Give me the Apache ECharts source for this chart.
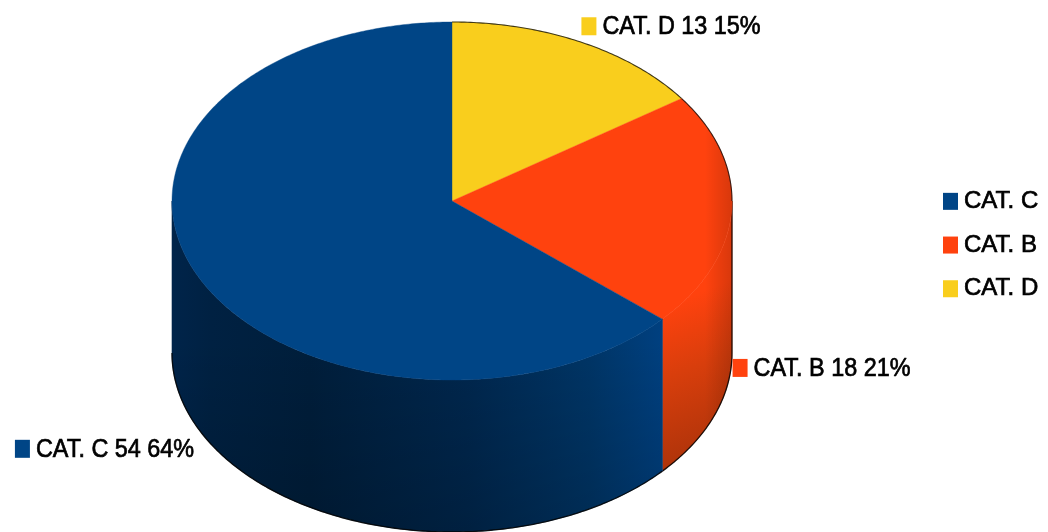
<!DOCTYPE html>
<html><head><meta charset="utf-8">
<style>html,body{margin:0;padding:0;background:#fff}#c{width:1048px;height:532px}</style>
<script src="https://cdn.jsdelivr.net/npm/echarts@6/dist/echarts.min.js"></script>
</head><body><div id="c"></div>
<script>
const categories = ['CAT. C', 'CAT. B', 'CAT. D'];
const values = [54, 18, 13];
const colors = ['#004586', '#ff420e', '#f9ce1d'];

// Slices run clockwise from 12 o'clock: D, then B, then C
const drawOrder = [2, 1, 0];
const total = values.reduce((a, b) => a + b, 0);
const CX = 452, CY = 201, RX = 280, RY = 179, DEPTH = 152;
const fontFamily = '"Liberation Sans", Arial, sans-serif';
const labelFont = '26px ' + fontFamily;
const labelOffset = { 'CAT. C': [-182, 22], 'CAT. B': [1, 5], 'CAT. D': [0, -16] };

const edgeShade = { x: 705, y: 0, x2: 733, y2: 0, stops: [[0, 'rgba(0,0,0,0)'], [1, 'rgba(0,0,0,0.16)']] };
const sideFill = {
  'CAT. C': [
    { x: 172, y: 0, x2: 663, y2: 0, stops: [[0, '#00244a'], [0.08, '#002142'], [0.28, '#001e3b'], [0.6, '#00274e'], [0.85, '#003566'], [1, '#004080']] },
    { x: 0, y: 340, x2: 0, y2: 532, stops: [[0, 'rgba(0,0,0,0)'], [1, 'rgba(0,0,0,0.18)']] }
  ],
  'CAT. B': [
    { x: 680, y: 300, x2: 735, y2: 440, stops: [[0, '#ff420e'], [0.45, '#d83e0c'], [1, '#b0340a']] },
    edgeShade
  ]
};

function gradient(f) {
  return new echarts.graphic.LinearGradient(f.x, f.y, f.x2, f.y2,
    f.stops.map(s => ({ offset: s[0], color: s[1] })), true);
}

function arcPts(a0, a1, dy) {
  const n = Math.max(2, Math.ceil(Math.abs(a1 - a0) * 90));
  const pts = [];
  for (let i = 0; i <= n; i++) {
    const a = a0 + (a1 - a0) * i / n;
    pts.push([CX + RX * Math.sin(a), CY + dy - RY * Math.cos(a)]);
  }
  return pts;
}

function sliceRange(idx) {
  let acc = 0;
  for (const k of drawOrder) {
    const start = acc / total * 2 * Math.PI;
    acc += values[k];
    if (k === idx) return [start, acc / total * 2 * Math.PI];
  }
}

function makeRender(idx) {
  return function () {
    const [a0, a1] = sliceRange(idx);
    const name = categories[idx], val = values[idx];
    const children = [];
    // side wall: visible on the front half only
    const s0 = Math.max(a0, Math.PI / 2), s1 = Math.min(a1, 3 * Math.PI / 2);
    if (s1 > s0) {
      const bottom = arcPts(s0, s1, DEPTH), top = arcPts(s1, s0, 0);
      const pts = bottom.concat(top);
      sideFill[name].forEach((f, i) => {
        const fill = gradient(f);
        children.push({ type: 'polygon', shape: { points: pts }, style: i === 0 ? { fill, stroke: fill, lineWidth: 0.6 } : { fill } });
      });
      const edge = s0 === Math.PI / 2 ? [[CX + RX, CY]].concat(bottom) : bottom;
      children.push({ type: 'polyline', shape: { points: edge }, style: { stroke: '#000', lineWidth: 1.3, fill: null, opacity: 0.85 } });
    }
    // top face
    const top = [[CX, CY]].concat(arcPts(a0, a1, 0));
    children.push({ type: 'polygon', shape: { points: top }, style: { fill: colors[idx], stroke: colors[idx], lineWidth: 0.4 } });
    if (name === 'CAT. B') {
      children.push({ type: 'polygon', shape: { points: top }, style: { fill: gradient(edgeShade) } });
    }
    if (a0 < Math.PI / 2) {
      children.push({ type: 'polyline', shape: { points: arcPts(a0, Math.min(a1, Math.PI / 2), 0) }, style: { stroke: '#000', lineWidth: 1.1, fill: null, opacity: 0.75 } });
    }
    // data label with colour key, anchored at the slice's middle
    const mid = (a0 + a1) / 2;
    const onFront = Math.cos(mid) < 0;
    const off = labelOffset[name];
    const lx = CX + RX * Math.sin(mid) + off[0];
    const ly = CY - RY * Math.cos(mid) + (onFront ? DEPTH : 0) + off[1];
    const pct = Math.round(val / total * 100);
    children.push({ type: 'rect', z2: 50, shape: { x: lx, y: ly - 9, width: 15, height: 18 }, style: { fill: colors[idx] } });
    children.push({
      type: 'text', z2: 50, x: lx + 21, y: ly + 1, scaleX: 0.9,
      style: { x: 0, y: 0, text: name + ' ' + val + ' ' + pct + '%', font: labelFont, fill: '#000', stroke: '#000', lineWidth: 0.7, verticalAlign: 'middle' }
    });
    return { type: 'group', children };
  };
}

const chart = echarts.init(document.getElementById('c'), null, { renderer: 'canvas' });
chart.setOption({
  animation: false,
  backgroundColor: '#fff',
  legend: {
    data: categories.slice(),
    orient: 'vertical', left: 938, top: 184,
    itemWidth: 15, itemHeight: 17, itemGap: 19, icon: 'rect',
    textStyle: { fontSize: 24, fontFamily, color: '#000', padding: [1, 0, 0, 1], textBorderColor: '#000', textBorderWidth: 0.7 },
    selectedMode: false
  },
  series: categories.map((c, i) => ({
    type: 'custom', name: c, coordinateSystem: 'none', silent: true,
    itemStyle: { color: colors[i] },
    z: 3 - i,
    data: [{ name: c, value: values[i] }],
    renderItem: makeRender(i)
  }))
});
</script></body></html>
